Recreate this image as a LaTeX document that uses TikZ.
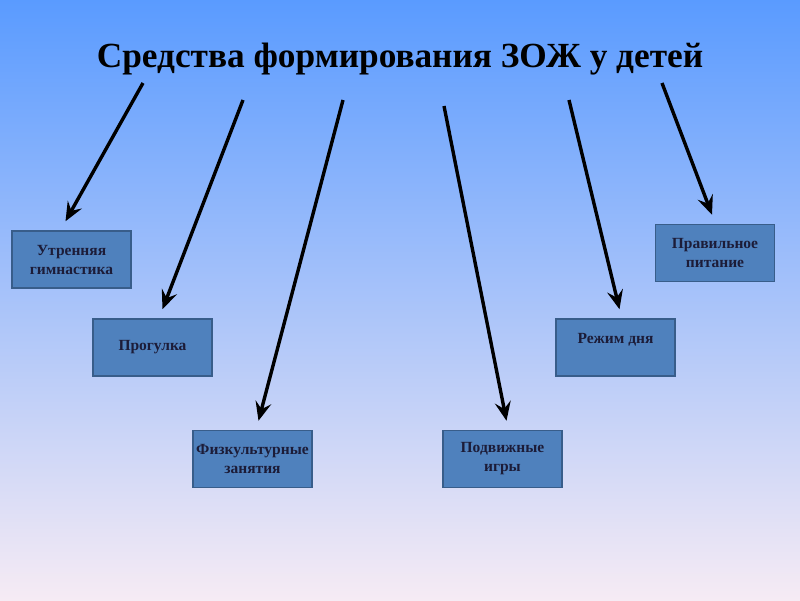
\documentclass[tikz,border=0pt]{standalone}
\usepackage{fontspec}
\setmainfont{Liberation Serif}
\usepackage{xcolor}
\usetikzlibrary{arrows.meta,calc}
\definecolor{skytop}{HTML}{5A9BFF}
\definecolor{skymid}{HTML}{8CC0F8}
\definecolor{skylow}{HTML}{F6EBF4}
\definecolor{boxblue}{HTML}{4F81BD}
\definecolor{boxedge}{HTML}{385D8A}
\definecolor{boxtext}{HTML}{1C1C38}
\begin{document}
\begin{tikzpicture}[
  x=1pt, y=-1pt,
  every node/.style={font=\bfseries},
  meansbox/.style={draw=boxedge, line width=1.5pt, fill=boxblue,
    minimum width=119pt, minimum height=57pt, align=center, inner xsep=2pt,
    text=boxtext, font=\fontsize{15.5}{19}\selectfont\bfseries},
  arr/.style={line width=3.4pt, -{Stealth[length=19pt,width=16pt,inset=7pt]}}]
% background
\shade[top color=skytop, middle color=skymid, bottom color=skylow]
  (0,0) rectangle (800,600);
\useasboundingbox (0,0) rectangle (800,600);
\node[font=\fontsize{35.3}{42}\selectfont\bfseries] (title) at (400,59)
  {Средства формирования ЗОЖ у детей};
% boxes
\node[meansbox] (morning) at (71.5,259.5) {Утренняя\\гимнастика};
\node[meansbox] (walk) at (152.5,347.5) {Прогулка};
\node[meansbox] (sport) at (252.5,459) {Физкультурные\\занятия};
\node[meansbox] (games) at (502.5,459) {Подвижные\\игры};
\node[meansbox] (regime) at (615.5,347.5) {Режим дня\\\phantom{x}};
\node[meansbox] (food) at (715,253) {Правильное\\питание};
% arrow tails under the title
\coordinate (t1) at (143,83);
\coordinate (t2) at (243,100);
\coordinate (t3) at (343,100);
\coordinate (t4) at (444,106);
\coordinate (t5) at (569,100);
\coordinate (t6) at (662,83);
\foreach \src/\dst/\dx in {t1/morning/-6, t2/walk/10, t3/sport/6,
                           t4/games/4, t5/regime/4, t6/food/-3} {
  \draw[arr] (\src) -- ([xshift=\dx pt,yshift=9pt]\dst.north);}
\end{tikzpicture}
\end{document}
